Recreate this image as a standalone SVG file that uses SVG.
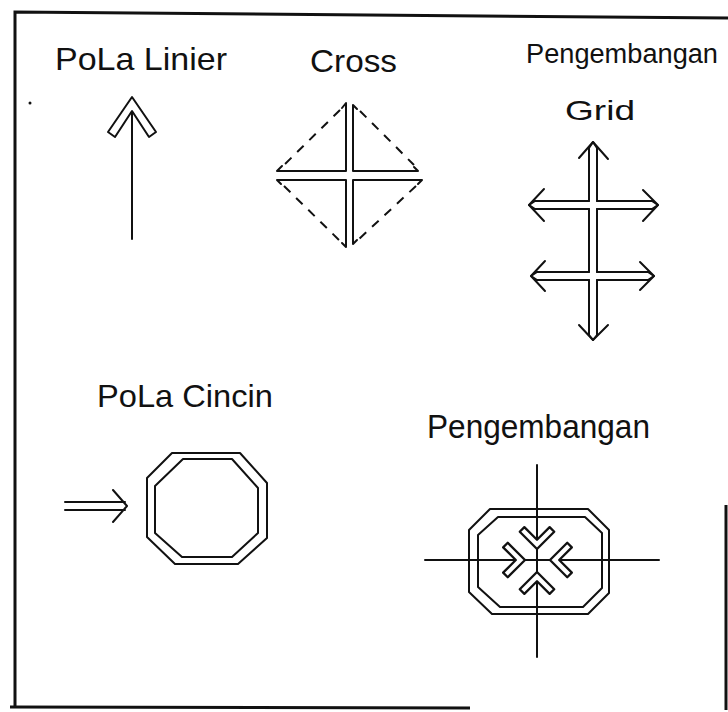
<svg xmlns="http://www.w3.org/2000/svg" width="728" height="712" viewBox="0 0 728 712">
<style>
  .lbl{font-family:"Liberation Sans","DejaVu Sans",sans-serif;fill:#111;}
  .ln{stroke:#111;stroke-width:2;fill:none;stroke-linecap:round;stroke-linejoin:round;}
  .dash{stroke:#111;stroke-width:2;fill:none;stroke-dasharray:9 8;}
  .hollow{stroke:#111;stroke-width:2;fill:#fff;stroke-linejoin:round;}
  .border{stroke:#111;stroke-width:3;fill:none;}
</style>
<defs>
  <polygon id="chev" points="0,0 15,15 11,19 0,8 -11,19 -15,15"/>
</defs>
<rect width="728" height="712" fill="#fff"/>

<g id="frame">
  <polyline class="border" points="15,708 15,12 728,18"/>
  <line class="border" x1="10" y1="707" x2="470" y2="708"/>
  <line class="border" x1="726" y1="505" x2="726" y2="710"/>
  <circle cx="30" cy="103" r="1.5" fill="#111"/>
</g>

<g id="pola-linier">
  <text class="lbl" x="55" y="70" font-size="32" textLength="172" lengthAdjust="spacingAndGlyphs">PoLa Linier</text>
  <line class="ln" x1="132" y1="110" x2="132" y2="239"/>
  <polygon class="hollow" points="132,97 156,132 149,137 132,111 115,137 108,132"/>
</g>

<g id="cross">
  <text class="lbl" x="310" y="72" font-size="32" textLength="87" lengthAdjust="spacingAndGlyphs">Cross</text>
  <polyline class="ln" points="342,108 346,103 346,171 277,171 282,166"/>
  <polyline class="ln" points="357,109 353,105 353,171 418,171 414,167"/>
  <polyline class="ln" points="281,184 277,180 346,180 346,247 342,243"/>
  <polyline class="ln" points="418,184 422,180 353,180 353,244 357,240"/>
  <line class="dash" x1="340" y1="110" x2="284" y2="165"/>
  <line class="dash" x1="360" y1="111" x2="414" y2="165"/>
  <line class="dash" x1="284" y1="186" x2="340" y2="241"/>
  <line class="dash" x1="416" y1="186" x2="359" y2="239"/>
</g>

<g id="pengembangan-grid">
  <text class="lbl" x="526" y="63" font-size="27" textLength="192" lengthAdjust="spacingAndGlyphs">Pengembangan</text>
  <text class="lbl" x="565" y="120" font-size="28" textLength="70" lengthAdjust="spacingAndGlyphs">Grid</text>
  <path class="ln" d="M589,148 V201 M597,148 V201 M589,209 V272 M597,209 V272 M589,280 V335 M597,280 V335"/>
  <path class="ln" d="M535,201 H589 M597,201 H652 M535,209 H589 M597,209 H652"/>
  <path class="ln" d="M537,272 H589 M597,272 H648 M537,280 H589 M597,280 H648"/>
  <polyline class="ln" points="589,148 593,142 597,148"/>
  <polyline class="ln" points="579,158 593,142 608,159"/>
  <polyline class="ln" points="589,335 593,340 597,335"/>
  <polyline class="ln" points="579,325 593,340 608,325"/>
  <polyline class="ln" points="535,201 529,205 535,209"/>
  <polyline class="ln" points="544,189 529,205 544,221"/>
  <polyline class="ln" points="652,201 658,205 652,209"/>
  <polyline class="ln" points="643,190 658,205 643,221"/>
  <polyline class="ln" points="537,272 531,276 537,280"/>
  <polyline class="ln" points="545,261 531,276 545,291"/>
  <polyline class="ln" points="648,272 654,276 648,280"/>
  <polyline class="ln" points="640,262 654,276 640,290"/>
</g>

<g id="pola-cincin">
  <text class="lbl" x="97" y="407" font-size="32" textLength="176" lengthAdjust="spacingAndGlyphs">PoLa Cincin</text>
  <path class="ln" d="M65,502 H125 M65,510 H125"/>
  <polyline class="ln" points="113,490 127,506 113,522"/>
  <polygon class="ln" points="172,453 240,453 267,483 267,538 238,564 175,564 147,537 147,478"/>
  <polygon class="ln" points="183,459 232,459 258,488 258,533 232,557 182,557 155,533 155,486"/>
</g>

<g id="pengembangan">
  <text class="lbl" x="427" y="438" font-size="34" textLength="223" lengthAdjust="spacingAndGlyphs">Pengembangan</text>
  <polygon class="ln" points="490,509 588,509 609,530 609,593 588,614 492,614 469,592 469,530"/>
  <polygon class="ln" points="498,517 585,517 602,533 602,588 583,607 500,607 478,587 478,535"/>
  <line class="ln" x1="537" y1="465" x2="537" y2="657"/>
  <line class="ln" x1="425" y1="560" x2="659" y2="560"/>
  <use href="#chev" class="hollow" transform="translate(537,549) rotate(180) scale(1.15)"/>
  <use href="#chev" class="hollow" transform="translate(537,572) scale(1.15)"/>
  <use href="#chev" class="hollow" transform="translate(525,560) rotate(90) scale(1.15)"/>
  <use href="#chev" class="hollow" transform="translate(550,560) rotate(-90) scale(1.15)"/>
</g>
</svg>
